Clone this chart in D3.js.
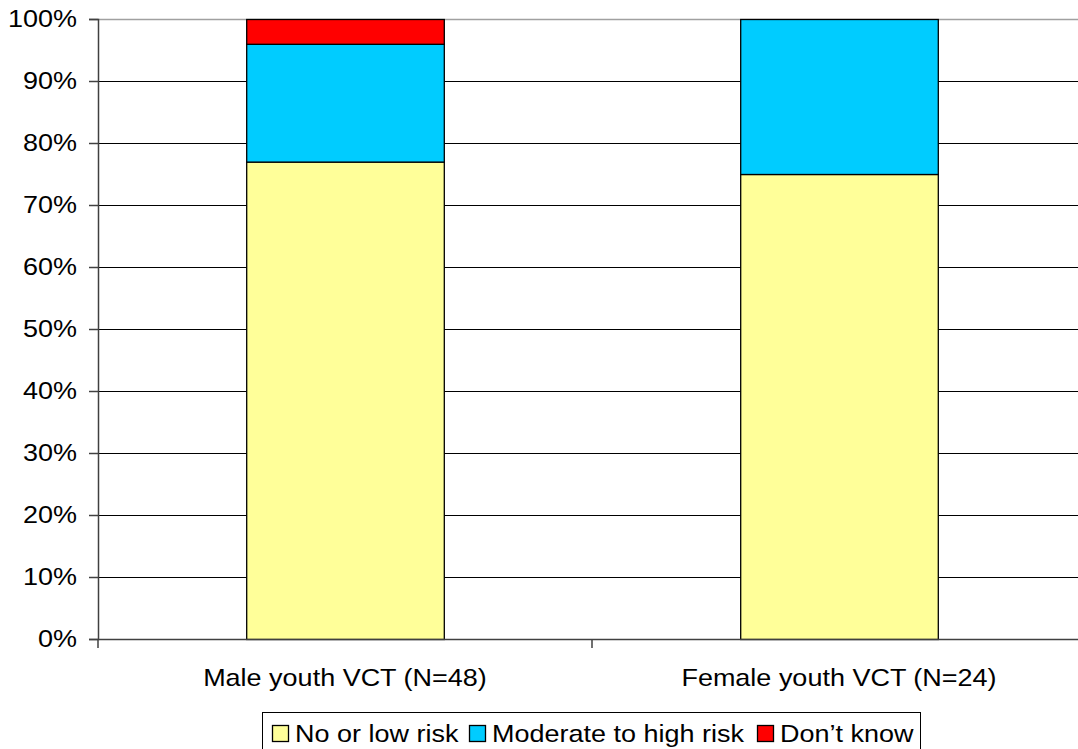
<!DOCTYPE html>
<html>
<head>
<meta charset="utf-8">
<script src="https://cdn.jsdelivr.net/npm/d3@7"></script>
<style>
  body { margin: 0; background: #fff; }
  svg { display: block; font-family: "Liberation Sans", Arial, sans-serif; }
</style>
</head>
<body>
<div id="chart"></div>
<script>
var categories = ["Male youth VCT (N=48)", "Female youth VCT (N=24)"];
var seriesNames = ["No or low risk", "Moderate to high risk", "Don\u2019t know"];
var seriesColors = ["#ffff99", "#00ccff", "#ff0000"];
var noLowRisk = [77, 75];
var moderateHighRisk = [19, 25];
var dontKnow = [4, 0];
var yTicks = [0, 10, 20, 30, 40, 50, 60, 70, 80, 90, 100];

var width = 1078, height = 749;
var plotLeft = 98, plotRight = 1086, plotTop = 19, plotBottom = 639;
var fontSize = 24;
var stretch = 1.125; // the reference text is a bit wider than Arial

var svg = d3.select("#chart")
    .append("svg")
    .attr("width", width)
    .attr("height", height)

var x = d3.scaleBand().domain(categories).range([plotLeft, plotRight])
    .paddingInner(0.6).paddingOuter(0.3);
var xOuter = d3.scaleBand().domain(categories).range([plotLeft, plotRight]);
var y = d3.scaleLinear().domain([0, 100]).range([plotBottom, plotTop]);

// gridlines
svg.append("g")
    .selectAll("line")
    .data(yTicks.filter(function(d) { return d > 0; }))
    .enter()
    .append("line")
    .attr("x1", plotLeft)
    .attr("x2", plotRight)
    .attr("y1", function(d) { return Math.round(y(d)) + 0.5; })
    .attr("y2", function(d) { return Math.round(y(d)) + 0.5; })
    .attr("stroke", function(d) { return d == 100 ? "#a0a0a0" : "#000"; })
    .attr("stroke-width", function(d) { return d == 100 ? 1.5 : 1; })

// stacked data
var rows = categories.map(function(c, i) {
    return { cat: c, a: noLowRisk[i], b: moderateHighRisk[i], c: dontKnow[i] };
});
var stack = d3.stack().keys(["a", "b", "c"]);
var layers = stack(rows);

svg.append("g")
    .selectAll("g")
    .data(layers)
    .enter()
    .append("g")
    .attr("fill", function(d, i) { return seriesColors[i]; })
    .selectAll("rect")
    .data(function(d) { return d.filter(function(s) { return s[1] - s[0] > 0; }); })
    .enter()
    .append("rect")
    .attr("x", function(d) { return x(d.data.cat) + 0.5; })
    .attr("y", function(d) { return y(d[1]) + 0.5; })
    .attr("width", x.bandwidth())
    .attr("height", function(d) { return y(d[0]) - y(d[1]); })
    .attr("stroke", "#000")
    .attr("stroke-width", 1.3)

// y axis
var yAxis = svg.append("g")
    .attr("transform", "translate(" + plotLeft + ",0)")
    .call(d3.axisLeft(y).tickValues(yTicks).tickSize(9).tickPadding(12)
        .tickFormat(function(d) { return d + "%"; }))
yAxis.select(".domain").attr("stroke", "#404040").attr("stroke-width", 1.5)
yAxis.selectAll(".tick line").attr("stroke", "#404040").attr("stroke-width", 1.5)
yAxis.selectAll("text").attr("font-size", fontSize).attr("fill", "#000")
    .attr("font-family", "Liberation Sans, Arial, sans-serif")
    .attr("x", -21 / stretch)
    .attr("transform", "scale(" + stretch + ",1)")

// x axis
var xAxis = svg.append("g")
    .attr("transform", "translate(0," + plotBottom + ")")
    .call(d3.axisBottom(xOuter).tickSize(0).tickPadding(30))
xAxis.select(".domain").attr("stroke", "#404040").attr("stroke-width", 1.5)
xAxis.selectAll("text").attr("font-size", fontSize).attr("fill", "#000")
    .attr("font-family", "Liberation Sans, Arial, sans-serif")
    .attr("transform", "scale(" + stretch + ",1)")

// tick marks between categories
svg.append("g")
    .selectAll("line")
    .data([plotLeft, xOuter(categories[1])])
    .enter()
    .append("line")
    .attr("x1", function(d) { return d; })
    .attr("x2", function(d) { return d; })
    .attr("y1", plotBottom)
    .attr("y2", plotBottom + 9)
    .attr("stroke", "#404040")
    .attr("stroke-width", 1.5)

// legend
var legend = svg.append("g")
legend.append("rect")
    .attr("x", 262.5)
    .attr("y", 712.5)
    .attr("width", 658)
    .attr("height", 42)
    .attr("fill", "#fff")
    .attr("stroke", "#000")
    .attr("stroke-width", 1)

var legendX = [272, 469, 757];
var items = legend.selectAll(".item")
    .data(seriesNames)
    .enter()
    .append("g")
    .attr("transform", function(d, i) { return "translate(" + legendX[i] + ",725)"; })
items.append("rect")
    .attr("x", 0.5)
    .attr("y", 0.5)
    .attr("width", 16)
    .attr("height", 16)
    .attr("fill", function(d, i) { return seriesColors[i]; })
    .attr("stroke", "#000")
    .attr("stroke-width", 1.3)
items.append("text")
    .attr("x", 23 / stretch)
    .attr("y", 17)
    .attr("font-size", fontSize)
    .attr("transform", "scale(" + stretch + ",1)")
    .text(function(d) { return d; })
</script>
</body>
</html>
